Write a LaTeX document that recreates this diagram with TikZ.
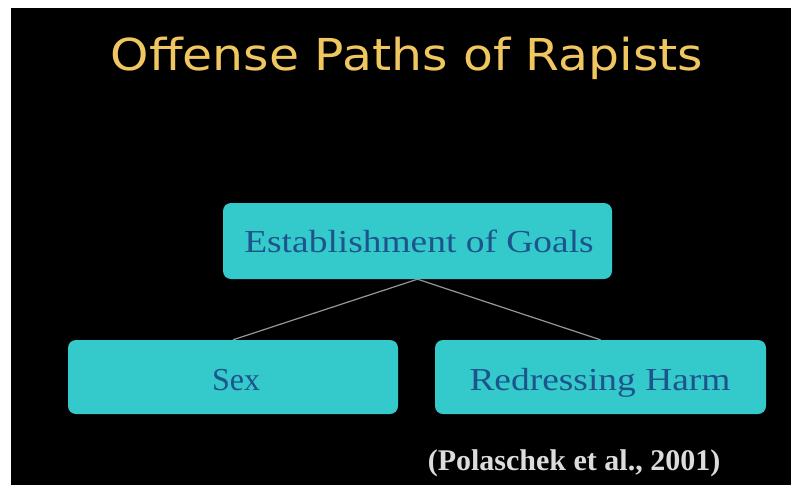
\documentclass[tikz,border=0pt]{standalone}
\usepackage{fontspec}
\setmainfont{Liberation Serif}
\newfontfamily\titlefont{DejaVu Sans}
\definecolor{bgblack}{RGB}{0,0,0}
\definecolor{titlegold}{RGB}{240,198,96}
\definecolor{boxteal}{RGB}{52,202,204}
\definecolor{boxtext}{RGB}{30,84,140}
\definecolor{linegray}{RGB}{150,150,150}
\definecolor{citegray}{RGB}{220,220,220}
\tikzset{
  goalbox/.style={draw=none, fill=boxteal, rounded corners=8pt, inner sep=0pt},
  boxlabel/.style={text=boxtext, font=\fontsize{32}{36}\selectfont, anchor=base, inner sep=0pt},
  link/.style={draw=linegray, line width=1.2pt},
}
\begin{document}
\begin{tikzpicture}[x=1pt,y=-1pt]
\useasboundingbox (0,0) rectangle (791,485);
\fill[white] (0,0) rectangle (791,485);
\fill[bgblack] (11,8) rectangle (791,485);
% title
\node[text=titlegold, font=\titlefont\fontsize{44}{50}\selectfont, anchor=base, inner sep=0pt, xscale=1.11] (title) at (407,70) {Offense Paths of Rapists};
% boxes
\node[goalbox, minimum width=389pt, minimum height=76pt] (goals) at (417.5,241) {};
\node[goalbox, minimum width=330pt, minimum height=74pt] (sex) at (233,377) {};
\node[goalbox, minimum width=331pt, minimum height=74pt] (harm) at (600.5,377) {};
% labels
\node[boxlabel, xscale=1.17] (goalstext) at (419,252) {Establishment of Goals};
\node[boxlabel] (sextext) at (236,390) {Sex};
\node[boxlabel, xscale=1.17] (harmtext) at (600,390) {Redressing Harm};
% connectors
\draw[link] (goals.south) -- (sex.north);
\draw[link] (goals.south) -- (harm.north);
% citation
\node[text=citegray, font=\bfseries\fontsize{30}{34}\selectfont, anchor=base, inner sep=0pt] (cite) at (574,470) {(Polaschek et al., 2001)};
\end{tikzpicture}
\end{document}
